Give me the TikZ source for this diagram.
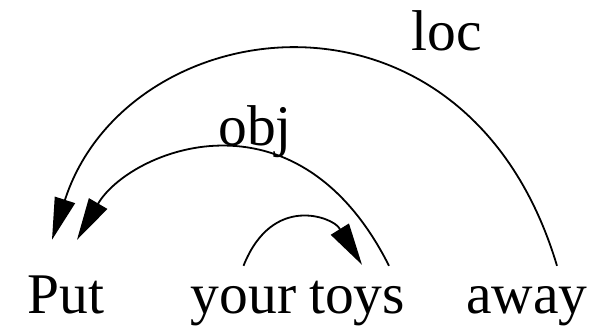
\documentclass[tikz,border=0pt]{standalone}
\usepackage{fontspec}
\setmainfont{Liberation Serif}
\usepackage{tikz}
\usepackage{xcolor}
\usetikzlibrary{arrows.meta,positioning,calc}
\definecolor{ink}{HTML}{000000}
\tikzset{
  word/.style={font=\fontsize{57.5}{62}\selectfont,text=ink,inner sep=0pt,
               text height=47pt,text depth=13pt,anchor=base},
  deplabel/.style={font=\fontsize{57.5}{62}\selectfont,text=ink,inner sep=0pt,
                   anchor=base},
  deparr/.style={-{Triangle[length=42pt,width=21pt]},line width=1.8pt,
                 draw=ink}
}
\begin{document}
\begin{tikzpicture}[x=1pt,y=-1pt]
    \path[use as bounding box] (0,0) rectangle (599,325);
    \node[word] (put) at (66,313) {Put};
    \node[word] (your) at (243.5,313) {your};
    \node[word] (toys) at (357,313) {toys};
    \node[word] (away) at (527,313) {away};

    \node[deplabel] (lblloc) at (447,50) {loc};
    \node[deplabel] (lblobj) at (255,145) {obj};

    % arcs end in a short straight piece that carries the tip
    \draw[deparr] ([xshift=30pt]away.north)
      .. controls +(-91,-304) and +(62,-191) .. ([xshift=-1pt,yshift=66pt]put.north)
      -- ++(-13,40);
    \draw[deparr] ([xshift=32pt]toys.north)
      .. controls +(-93,-185) and +(31,-53) .. ([xshift=32pt,yshift=62pt]put.north)
      -- ++(-21,36);
    \draw[deparr] (your.north)
      .. controls +(29,-73) and +(-6,-10) .. ([xshift=-18pt,yshift=38pt]toys.north)
      -- ++(23,37);
  \end{tikzpicture}
\end{document}
